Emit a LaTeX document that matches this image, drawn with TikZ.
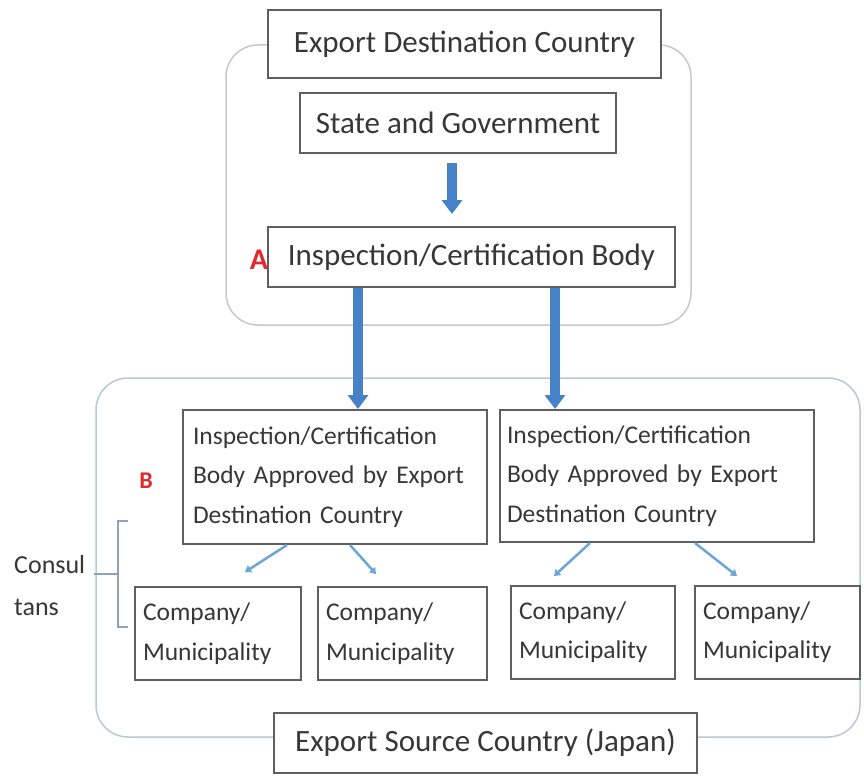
\documentclass[tikz,border=0pt]{standalone}
\usepackage{fontspec}
\setmainfont{Carlito}
\usetikzlibrary{arrows.meta,positioning,calc}
\definecolor{boxline}{RGB}{95,95,95}
\definecolor{txt}{RGB}{55,55,55}
\definecolor{arrowblue}{RGB}{70,130,200}
\definecolor{thinblue}{RGB}{110,165,215}
\definecolor{outergray}{RGB}{200,200,200}
\definecolor{outerblue}{RGB}{185,200,215}
\definecolor{bracketcol}{RGB}{140,165,190}
\definecolor{labelred}{RGB}{225,40,45}
\tikzset{
  box/.style={draw=boxline, line width=2pt, fill=white, text=txt, inner sep=0pt},
  bigtext/.style={font=\fontsize{31}{36}\selectfont},
  midtext/.style={font=\fontsize{25.5}{39.5}\selectfont, align=left},
  outer/.style={rounded corners=32pt, line width=1.5pt},
  bigarrow/.style={draw=arrowblue, line width=10pt, -{Triangle[width=20pt,length=14pt]}},
  thinarrow/.style={draw=thinblue, line width=2.5pt, -{Triangle[width=8pt,length=6pt]}},
  redlabel/.style={text=labelred, font=\fontsize{30}{34}\selectfont\bfseries}
}
\begin{document}
\begin{tikzpicture}[x=1pt,y=-1pt]
\useasboundingbox[fill=white] (0,0) rectangle (864,776);
% outer containers
\draw[outer, draw=outergray] (226,45) rectangle (691,325);
\draw[outer, draw=outerblue] (96,378) rectangle (860,737);
% top group
\node[box, bigtext, minimum width=393pt, minimum height=68pt] (dest) at (464.5,44) {Export Destination Country};
\node[box, bigtext, minimum width=316pt, minimum height=60pt] (state) at (458,123) {State and Government};
\node[box, bigtext, minimum width=407pt, minimum height=60pt] (icb) at (471.5,257) {Inspection/Certification Body};
\node[redlabel] (labA) at (259,260) {A};
% approved bodies
\node[box, midtext, minimum width=304pt, minimum height=134pt, text width=284pt] (icl) at (335,477) {Inspection/Certification\\Body Approved by Export\\Destination Country};
\node[box, midtext, minimum width=314pt, minimum height=132pt, text width=300pt] (icr) at (657,476) {Inspection/Certification\\Body Approved by Export\\Destination Country};
\node[redlabel, font=\fontsize{24}{28}\selectfont\bfseries] (labB) at (146,481) {B};
% companies
\node[box, midtext, minimum width=166pt, minimum height=93pt, text width=150pt] (c1) at (218,633.5) {Company/\\Municipality};
\node[box, midtext, minimum width=169pt, minimum height=93pt, text width=153pt] (c2) at (402.5,633.5) {Company/\\Municipality};
\node[box, midtext, minimum width=164pt, minimum height=93pt, text width=148pt] (c3) at (593,632) {Company/\\Municipality};
\node[box, midtext, minimum width=165pt, minimum height=93pt, text width=149pt] (c4) at (777.5,632) {Company/\\Municipality};
% source
\node[box, bigtext, minimum width=423pt, minimum height=60pt] (src) at (485.5,743) {Export Source Country (Japan)};
% consultants
\node[text=txt, font=\fontsize{26}{42}\selectfont, align=left, anchor=west, inner sep=0pt] (cons) at (14,586) {Consul\\tans};
\coordinate (bt) at (128,521);
\coordinate (bb) at (128,627);
\coordinate (bm) at (118,574);
\coordinate (cl) at (94,574);
\draw[draw=bracketcol, line width=2pt] (bt) -- (118,521) -- (118,627) -- (bb);
\draw[draw=bracketcol, line width=2pt] (cl) -- (bm);
% arrows
\coordinate (a1s) at (452,163);
\coordinate (a1e) at (452,214);
\draw[bigarrow] (a1s) -- (a1e);
\draw[bigarrow] (icb.south -| 358,0) -- (icl.north -| 358,0);
\draw[bigarrow] (icb.south -| 555,0) -- (icr.north -| 555,0);
\coordinate (t1) at (245,572);
\coordinate (t2) at (376,574);
\coordinate (t3) at (554,576);
\coordinate (t4) at (737,576);
\draw[thinarrow] (icl.south -| 287,0) -- (t1);
\draw[thinarrow] (icl.south -| 350,0) -- (t2);
\draw[thinarrow] (icr.south -| 590,0) -- (t3);
\draw[thinarrow] (icr.south -| 695,0) -- (t4);
\end{tikzpicture}
\end{document}
